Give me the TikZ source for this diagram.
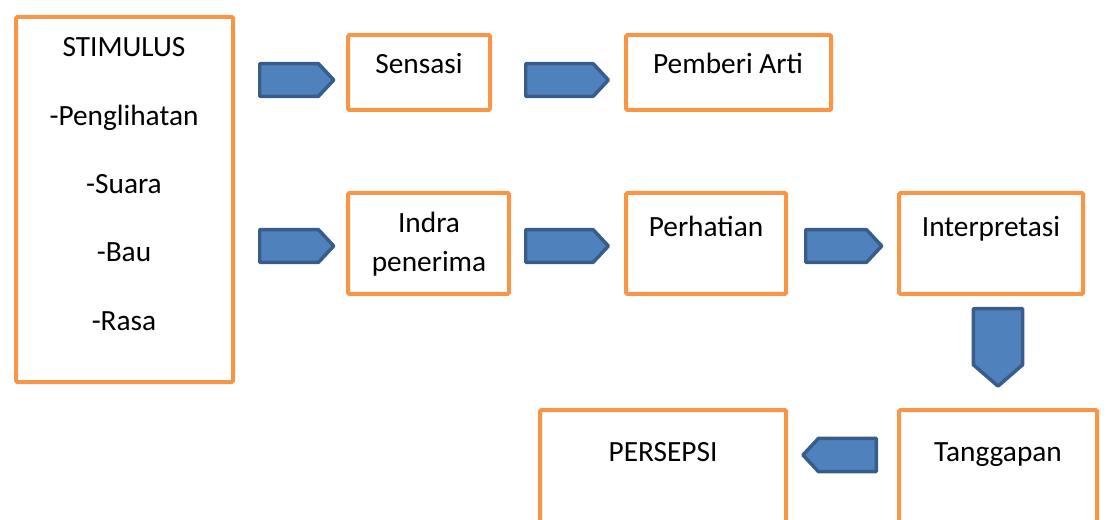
\documentclass[tikz,border=0pt]{standalone}
\usepackage{fontspec}
\setmainfont{Carlito}
\usepackage{xcolor}
\usetikzlibrary{shapes.symbols,fit}
\definecolor{boxorange}{HTML}{F79646}
\definecolor{arrowblue}{HTML}{4F81BD}
\definecolor{arrowedge}{HTML}{385D8A}
\tikzset{
    orange-box/.style = {draw=boxorange, line width=3pt, rectangle, rounded corners=1pt, inner sep=0pt},
    box-text/.style = {anchor=base, align=center, font=\fontsize{22}{29.25}\selectfont, inner sep=0pt},
    blue-arrow/.style = {signal, draw=arrowedge, fill=arrowblue, line width=2.6pt, line join=round, inner sep=0pt, signal pointer angle=94},
}

\begin{document}
\begin{tikzpicture}[x=0.75pt, y=-0.75pt]
\useasboundingbox (0,0) rectangle (1107,520);
\clip (0,0) rectangle (1107,520);
% boxes
\node[orange-box, fit={(16,17) (233,382)}] (stimulus) {};
\node[orange-box, fit={(348,35) (490,110)}] (sensasi) {};
\node[orange-box, fit={(626,35) (831,110)}] (arti) {};
\node[orange-box, fit={(348,193) (509,294)}] (indra) {};
\node[orange-box, fit={(626,193) (786,294)}] (perhatian) {};
\node[orange-box, fit={(899,193) (1083,294)}] (interpretasi) {};
\node[orange-box, fit={(899,410) (1097,545)}] (tanggapan) {};
\node[orange-box, fit={(540,410) (786,545)}] (persepsi) {};
% texts (base = last line)
\node[box-text, font=\fontsize{22}{51.2}\selectfont] (stimulus-text) at (124,330) {STIMULUS\\-Penglihatan\\-Suara\\-Bau\\-Rasa};
\node[box-text] (sensasi-text) at (419,74) {Sensasi};
\node[box-text] (arti-text) at (728,74) {Pemberi Arti};
\node[box-text] (indra-text) at (429,272) {Indra\\penerima};
\node[box-text] (perhatian-text) at (706,237) {Perhatian};
\node[box-text] (interpretasi-text) at (991,237) {Interpretasi};
\node[box-text] (tanggapan-text) at (998,461) {Tanggapan};
\node[box-text] (persepsi-text) at (663,461) {PERSEPSI};
% arrows
\node[blue-arrow, signal to=east, anchor=west, minimum width=55.5pt, minimum height=24.5pt] (arrow-a1) at (258,80) {};
\node[blue-arrow, signal to=east, anchor=west, minimum width=62pt, minimum height=24.5pt] (arrow-a2) at (524,80) {};
\node[blue-arrow, signal to=east, anchor=west, minimum width=55.5pt, minimum height=24.5pt] (arrow-b1) at (258,246) {};
\node[blue-arrow, signal to=east, anchor=west, minimum width=62pt, minimum height=24.5pt] (arrow-b2) at (524,246) {};
\node[blue-arrow, signal to=east, anchor=west, minimum width=57pt, minimum height=24.5pt] (arrow-b3) at (804,246) {};
\node[blue-arrow, signal to=south, anchor=north, minimum width=37pt, minimum height=42pt, signal pointer angle=98] (arrow-down) at (998,307) {};
\node[blue-arrow, signal to=west, anchor=east, minimum width=55pt, minimum height=25pt] (arrow-left) at (878,455) {};
\end{tikzpicture}
\end{document}
